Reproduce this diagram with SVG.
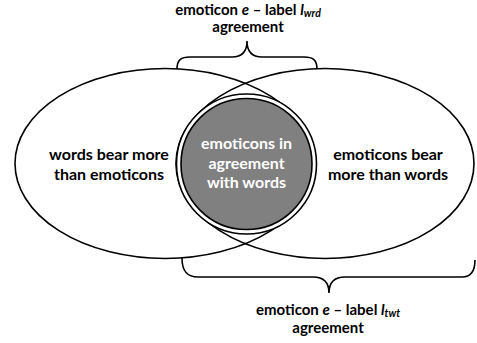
<svg xmlns="http://www.w3.org/2000/svg" width="477" height="343" viewBox="0 0 477 343">
<style>
.t{font-family:Lato,"Liberation Sans",sans-serif;font-weight:bold;fill:#000;text-anchor:middle}
.w{fill:#fff}
.ln{fill:none;stroke:#000;stroke-width:1.6}
.it{font-style:italic}
</style>
<rect width="477" height="343" fill="#fff"/>
<g id="ellipse-left"><ellipse class="ln" cx="165" cy="163.5" rx="150" ry="95"/></g>
<g id="ellipse-right"><ellipse class="ln" cx="325" cy="163.5" rx="149" ry="95"/></g>
<g id="center">
<circle cx="246.5" cy="164" r="70" fill="#fff" stroke="#000" stroke-width="1.6"/>
<circle cx="246.5" cy="164" r="65.5" fill="#808080" stroke="#000" stroke-width="1.6"/>
<text class="t w" font-size="16"><tspan x="246.5" y="149">emoticons in</tspan><tspan x="246.5" y="168.5">agreement</tspan><tspan x="246.5" y="188">with words</tspan></text>
</g>
<g id="left-label"><text class="t" font-size="16"><tspan x="109" y="160">words bear more</tspan><tspan x="109" y="180">than emoticons</tspan></text></g>
<g id="right-label"><text class="t" font-size="16"><tspan x="388" y="160">emoticons bear</tspan><tspan x="388" y="180">more than words</tspan></text></g>
<g id="connectors">
<path class="ln" d="M177,69 C177,60 181,57 190,57 L232,57 C242,57 247,52 247,41 C247,52 252,57 262,57 L304,57 C313,57 317,60 317,69"/>
<path class="ln" d="M182,258 C182,270 186,277 198,277 L313,277 C323,277 329,282 329,293 C329,282 335,277 345,277 L462,277 C471,277 475,270 475,260"/>
</g>
<g id="top-label"><text class="t" font-size="15"><tspan x="248" y="15">emoticon <tspan class="it">e</tspan> – label <tspan class="it">l</tspan><tspan class="it" font-size="10.5" dy="2">wrd</tspan></tspan><tspan x="248" y="32">agreement</tspan></text></g>
<g id="bottom-label"><text class="t" font-size="15"><tspan x="328" y="315">emoticon <tspan class="it">e</tspan> – label <tspan class="it">l</tspan><tspan class="it" font-size="10.5" dy="2">twt</tspan></tspan><tspan x="328" y="333">agreement</tspan></text></g>
</svg>
